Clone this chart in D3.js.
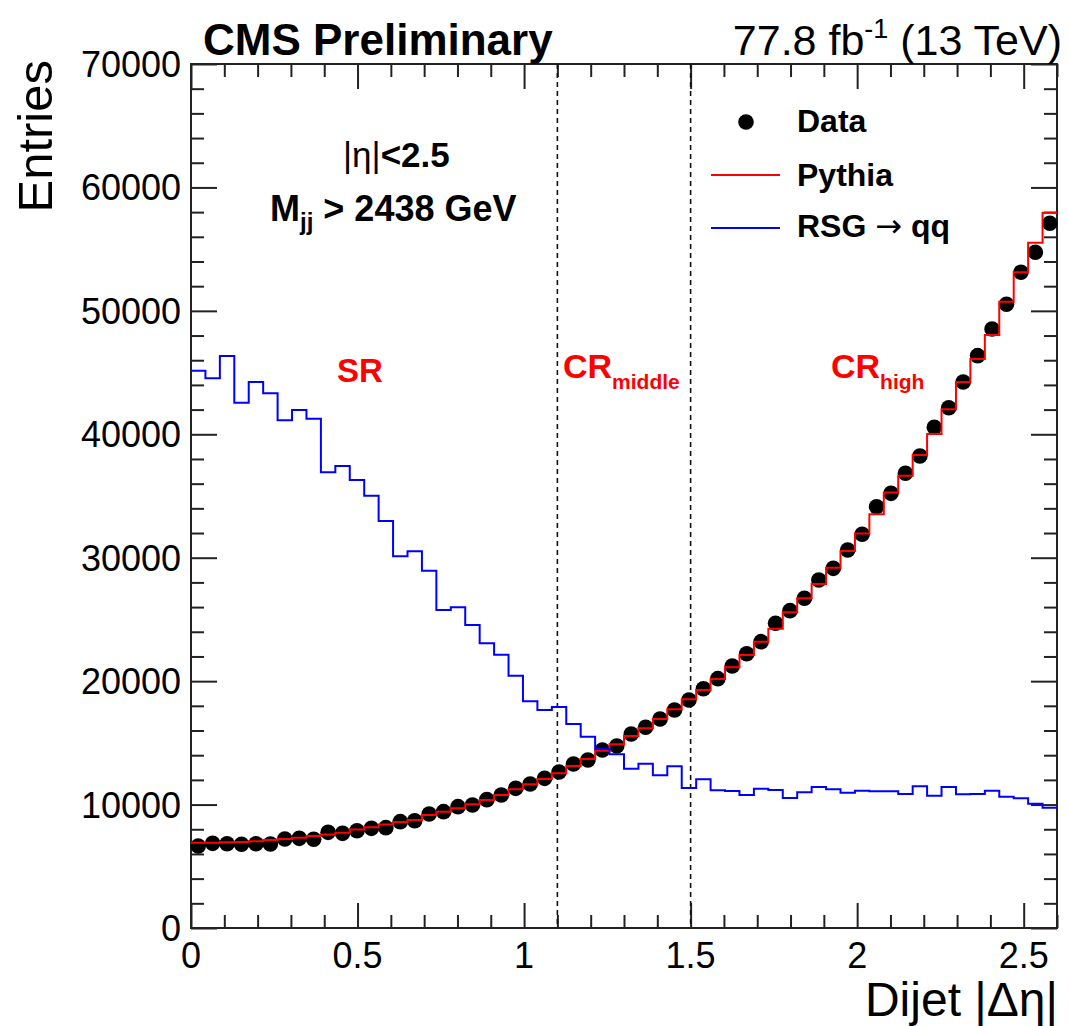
<!DOCTYPE html>
<html lang="en">

<head>
    <meta charset="UTF-8">
    <title>Dijet delta eta</title>
    <script src="https://d3js.org/d3.v7.min.js"></script>
    <style>
        body {
            margin: 0;
            background: #fff;
        }

        svg {
            display: block;
            font-family: 'Liberation Sans', Arial, Helvetica, sans-serif;
        }

        .axis line {
            stroke: #222;
            stroke-width: 2;
        }

        .axis path {
            display: none;
        }
    </style>
</head>

<body>
    <svg width="1068" height="1026"></svg>
    <script>
        const width = 1068;
        const height = 1026;

        // 60 bins over 0 .. 2.6
        const xMax = 2.6;
        const nBins = 60;

        const dataCounts = [
            6644, 6860, 6830, 6780, 6830, 6805, 7210, 7265, 7185, 7750,
            7670, 7885, 8075, 8130, 8615, 8695, 9235, 9425, 9830, 9965,
            10400, 10775, 11315, 11665, 12125, 12640, 13285, 13610, 14420, 14745,
            15720, 16260, 16935, 17660, 18470, 19380, 20200, 21225, 22225, 23200,
            24685, 25710, 26710, 28195, 29140, 30625, 31895, 34135, 35215, 36840,
            38240, 40565, 42155, 44235, 46370, 48530, 50530, 53125, 54745, 57095
        ];

        const pythiaCounts = [
            6915, 6915, 6940, 6970, 7020, 7130, 7210, 7315, 7450, 7585,
            7720, 7990, 8155, 8395, 8585, 8750, 9155, 9425, 9695, 10020,
            10370, 10775, 11235, 11640, 12070, 12530, 13125, 13690, 14370, 14880,
            15555, 16175, 16935, 17715, 18525, 19285, 20175, 21120, 22120, 23200,
            24250, 25575, 26710, 27870, 29180, 30545, 31970, 33520, 35280, 36650,
            38320, 40025, 42025, 44235, 46100, 48045, 50745, 53125, 55525, 57955
        ];

        const rsgCounts = [
            45150, 44535, 46340, 42560, 44235, 43320, 41130, 41970, 41265, 36920,
            37430, 36300, 35025, 32975, 30115, 30520, 28950, 25765, 25980, 24550,
            23065, 22145, 20445, 18365, 17660, 17905, 16530, 15500, 14500, 14070,
            12910, 13310, 12370, 13100, 11340, 12045, 11155, 11100, 10775, 11290,
            11180, 10530, 10995, 11425, 11235, 10965, 11125, 11075, 11075, 10855,
            11480, 10720, 11425, 10830, 10855, 11125, 10640, 10505, 10070, 9750
        ];

        const xMajorTicks = [0, 0.5, 1, 1.5, 2, 2.5];
        const xTickLabels = ["0", "0.5", "1", "1.5", "2", "2.5"];
        const xMinorTicks = [0.1, 0.2, 0.3, 0.4, 0.6, 0.7, 0.8, 0.9, 1.1, 1.2, 1.3, 1.4,
            1.6, 1.7, 1.8, 1.9, 2.1, 2.2, 2.3, 2.4, 2.6];
        const yMajorTicks = [0, 10000, 20000, 30000, 40000, 50000, 60000, 70000];
        const yMinorTicks = d3.range(0, 70001, 2000).filter(v => v % 10000 !== 0);

        const regionCuts = [1.1, 1.5];

        const svg = d3.select("svg");

        const pLeft = 191, pRight = 1057, pTop = 64, pBottom = 928;

        const x = d3.scaleLinear().domain([0, xMax]).range([pLeft, pRight]);
        const y = d3.scaleLinear().domain([0, 70000]).range([pBottom, pTop]);

        const binW = xMax / nBins;
        const edges = d3.range(nBins).map(i => i * binW);

        // axes with inward ticks on all four sides
        function addAxis(axis, tr) {
            svg.append("g").attr("class", "axis")
                .attr("transform", tr)
                .call(axis)
                .selectAll("text").remove();
        }

        addAxis(d3.axisBottom(x).tickValues(xMajorTicks).tickSize(-25), `translate(0,${pBottom})`);
        addAxis(d3.axisBottom(x).tickValues(xMinorTicks).tickSize(-13), `translate(0,${pBottom})`);
        addAxis(d3.axisTop(x).tickValues(xMajorTicks).tickSize(-25), `translate(0,${pTop})`);
        addAxis(d3.axisTop(x).tickValues(xMinorTicks).tickSize(-13), `translate(0,${pTop})`);
        addAxis(d3.axisLeft(y).tickValues(yMajorTicks).tickSize(-26), `translate(${pLeft},0)`);
        addAxis(d3.axisLeft(y).tickValues(yMinorTicks).tickSize(-13), `translate(${pLeft},0)`);
        addAxis(d3.axisRight(y).tickValues(yMajorTicks).tickSize(-26), `translate(${pRight},0)`);
        addAxis(d3.axisRight(y).tickValues(yMinorTicks).tickSize(-13), `translate(${pRight},0)`);

        svg.append("rect")
            .attr("x", pLeft).attr("y", pTop)
            .attr("width", pRight - pLeft).attr("height", pBottom - pTop)
            .attr("fill", "none").attr("stroke", "#222").attr("stroke-width", 2);

        // tick labels
        svg.selectAll(".xlab")
            .data(xMajorTicks)
            .enter().append("text")
            .attr("x", d => x(d))
            .attr("y", 968)
            .attr("text-anchor", "middle")
            .attr("font-size", 36)
            .text((d, i) => xTickLabels[i]);

        svg.selectAll(".ylab")
            .data(yMajorTicks)
            .enter().append("text")
            .attr("x", 181)
            .attr("y", d => y(d) + 13)
            .attr("text-anchor", "end")
            .attr("font-size", 36)
            .text(d => d);

        // region separators
        svg.selectAll(".cut")
            .data(regionCuts)
            .enter().append("line")
            .attr("x1", d => x(d)).attr("x2", d => x(d))
            .attr("y1", pTop).attr("y2", pBottom)
            .attr("stroke", "#111")
            .attr("stroke-width", 1.6)
            .attr("stroke-dasharray", "5,4");

        // data points
        svg.append("g").selectAll("circle")
            .data(dataCounts)
            .enter().append("circle")
            .attr("cx", (d, i) => x(edges[i] + binW / 2))
            .attr("cy", d => y(d))
            .attr("r", 7.8)
            .attr("fill", "#000");

        const step = d3.line()
            .x(d => x(d[0]))
            .y(d => y(d[1]))
            .curve(d3.curveStepAfter);

        function histPts(counts) {
            const pts = counts.map((c, i) => [edges[i], c]);
            pts.push([xMax, counts[counts.length - 1]]);
            return pts;
        }

        svg.append("path")
            .attr("d", step(histPts(pythiaCounts)))
            .attr("fill", "none")
            .attr("stroke", "#ff0000")
            .attr("stroke-width", 2);

        svg.append("path")
            .attr("d", step(histPts(rsgCounts)))
            .attr("fill", "none")
            .attr("stroke", "#0000ff")
            .attr("stroke-width", 2);

        // titles
        svg.append("text")
            .attr("x", 203).attr("y", 55)
            .attr("font-size", 44).attr("font-weight", "bold")
            .text("CMS Preliminary");

        const lumi = svg.append("text")
            .attr("x", 1062).attr("y", 55)
            .attr("text-anchor", "end")
            .attr("font-size", 43);
        lumi.append("tspan").text("77.8 fb");
        lumi.append("tspan").attr("font-size", 27).attr("dy", -17).text("-1");
        lumi.append("tspan").attr("dy", 17).text(" (13 TeV)");

        svg.append("text")
            .attr("transform", "translate(52,60) rotate(-90)")
            .attr("text-anchor", "end")
            .attr("font-size", 49)
            .text("Entries");

        svg.append("text")
            .attr("x", 1058).attr("y", 1016)
            .attr("text-anchor", "end")
            .attr("font-size", 48)
            .text("Dijet |\u0394\u03b7|");

        // cut labels
        const eta = svg.append("text")
            .attr("x", 343).attr("y", 167)
            .attr("font-size", 35);
        eta.append("tspan").text("|\u03b7|");
        eta.append("tspan").attr("font-weight", "bold").text("<2.5");

        const mjj = svg.append("text")
            .attr("x", 270).attr("y", 221)
            .attr("font-size", 36).attr("font-weight", "bold");
        mjj.append("tspan").text("M");
        mjj.append("tspan").attr("font-size", 24).attr("dy", 9).text("jj");
        mjj.append("tspan").attr("dy", -9).text(" > 2438 GeV");

        // region labels
        svg.append("text")
            .attr("x", 337).attr("y", 382)
            .attr("font-size", 33).attr("font-weight", "bold")
            .attr("fill", "#ff0000")
            .text("SR");

        const regionSubs = [
            { x0: 563, sub: "middle" },
            { x0: 831, sub: "high" }
        ];
        regionSubs.forEach(r => {
            const t = svg.append("text")
                .attr("x", r.x0).attr("y", 378)
                .attr("font-size", 34).attr("font-weight", "bold")
                .attr("fill", "#ff0000");
            t.append("tspan").text("CR");
            t.append("tspan").attr("font-size", 21).attr("dy", 11).text(r.sub);
        });

        // legend
        const legend = svg.append("g");
        legend.append("circle")
            .attr("cx", 746).attr("cy", 122).attr("r", 7.8).attr("fill", "#000");
        legend.append("line")
            .attr("x1", 711).attr("x2", 780).attr("y1", 175).attr("y2", 175)
            .attr("stroke", "#ff0000").attr("stroke-width", 2);
        legend.append("line")
            .attr("x1", 711).attr("x2", 780).attr("y1", 228).attr("y2", 228)
            .attr("stroke", "#0000ff").attr("stroke-width", 2);

        const legendLabels = [["Data"], ["Pythia"], ["RSG ", "\u2192", " qq"]];
        const legendY = [132, 186, 237];
        legend.selectAll("text")
            .data(legendLabels)
            .enter().append("text")
            .attr("x", 797)
            .attr("y", (d, i) => legendY[i])
            .attr("font-size", 32)
            .attr("font-weight", "bold")
            .each(function (parts) {
                const t = d3.select(this);
                parts.forEach(p => {
                    const s = t.append("tspan").text(p);
                    if (p === "\u2192") {
                        s.attr("font-family", "'DejaVu Sans', sans-serif")
                            .attr("font-weight", "normal");
                    }
                });
            });
    </script>
</body>

</html>
